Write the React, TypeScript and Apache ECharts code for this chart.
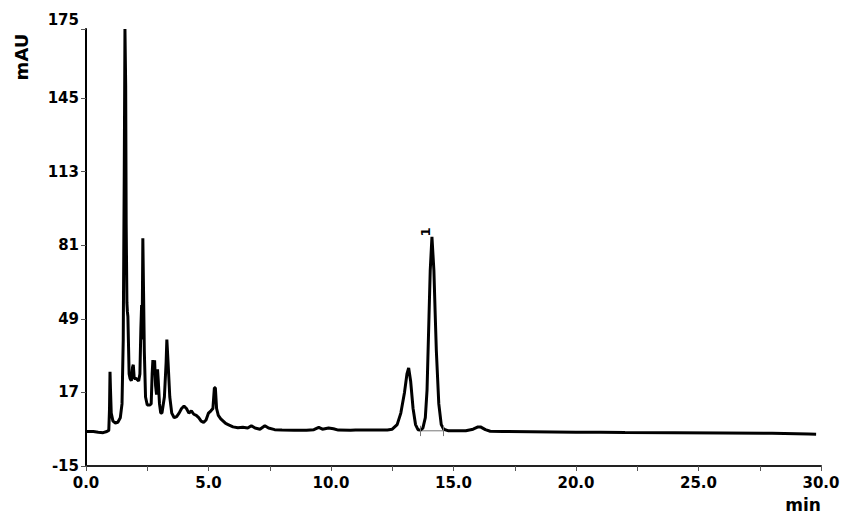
import React, { useEffect, useRef } from "react";
import * as echarts from "echarts";

// Chromatogram trace: retention time (min) and absorbance (mAU)
const times: number[] = [
  0, 0.3, 0.5, 0.7, 0.85, 0.93, 0.96, 0.98, 1.0, 1.03, 1.1, 1.2, 1.3, 1.4, 1.47, 1.52, 1.56, 1.59, 1.62, 1.64,
  1.67, 1.69, 1.71, 1.73, 1.76, 1.8, 1.85, 1.9, 1.93, 1.97, 2.05, 2.15, 2.2, 2.24, 2.27, 2.29, 2.32, 2.35, 2.38, 2.43,
  2.5, 2.6, 2.66, 2.7, 2.73, 2.77, 2.8, 2.84, 2.88, 2.92, 2.95, 3.0, 3.05, 3.1, 3.2, 3.27, 3.3, 3.35, 3.42, 3.5,
  3.6, 3.7, 3.8, 3.9, 4.0, 4.1, 4.2, 4.3, 4.4, 4.5, 4.6, 4.7, 4.8, 4.9, 5.0, 5.1, 5.18, 5.24, 5.28, 5.33,
  5.4, 5.5, 5.6, 5.7, 5.8, 6.0, 6.2, 6.4, 6.6, 6.75, 6.9, 7.1, 7.3, 7.45, 7.7, 8.0, 8.5, 9.0, 9.3, 9.5,
  9.65, 9.9, 10.1, 10.3, 10.8, 11.0, 11.5, 12.0, 12.3, 12.5, 12.7, 12.85, 13.0, 13.1, 13.17, 13.25, 13.35, 13.45, 13.55, 13.65,
  13.75, 13.85, 13.92, 14.0, 14.05, 14.12, 14.2, 14.25, 14.3, 14.4, 14.5, 14.6, 14.8, 15.0, 15.5, 15.8, 16.0, 16.1, 16.3, 16.5,
  17.0, 20.0, 21.0, 22.0, 24.0, 26.0, 28.0, 29.0, 29.5, 29.8,
];
const absorbance: number[] = [
  0, 0, -0.3, -0.5, 0, 0.5, 10, 26, 18, 8, 4.5, 3.7, 4, 6, 12, 40, 110, 175, 150, 90,
  56, 52, 50, 40, 25, 23, 22, 28, 29, 23, 23, 22, 25, 45, 55, 40, 84, 60, 35, 15,
  11.5, 11.5, 12, 25, 31, 25, 31, 20, 16, 27, 22, 12, 8, 8, 15, 30, 40, 30, 15, 8,
  6, 6.5, 8, 10, 11, 10, 8, 9, 7.5, 7, 6, 4.5, 4, 5, 8, 9, 10, 19, 19, 10,
  7, 5.5, 4.5, 3.5, 3, 2, 1.6, 1.8, 1.5, 2.5, 1.5, 1, 2.5, 1.5, 0.8, 0.6, 0.5, 0.5, 0.8, 1.8,
  1, 1.5, 1.2, 0.6, 0.5, 0.7, 0.6, 0.6, 0.7, 1.0, 3, 8, 17, 25, 27.6, 22, 10, 3, 0.8, 0.6,
  1.5, 6, 18, 50, 70, 84.6, 70, 52, 35, 12, 3, 1, 0.3, 0.3, 0.3, 1, 2, 2, 0.8, 0.1,
  0, -0.3, -0.3, -0.4, -0.5, -0.6, -0.8, -1.0, -1.1, -1.2,
];

// Integrated peak "1"
const peakLabel = "1";
const peakTime = 14.12;
const peakHeight = 84.6;
const baselineStart = 13.63;
const baselineEnd = 14.6;
const baselineLevel = 0.3;

const yMin = -15;
const yMax = 175;
const yStep = 32;
const xMin = 0;
const xMax = 30;

export default function App() {
  const ref = useRef<HTMLDivElement>(null);
  useEffect(() => {
    if (!ref.current) return;
    const chart = echarts.init(ref.current, null, { renderer: "svg" });
    const font = "DejaVu Sans";
    const trace = times.map((t, i) => [t, absorbance[i]]);
    chart.setOption({
      animation: false,
      backgroundColor: "#fff",
      grid: { left: 86, right: 35, top: 29, bottom: 58, containLabel: false },
      xAxis: {
        type: "value",
        min: xMin,
        max: xMax,
        interval: 2.5,
        axisLine: { show: true, onZero: false, lineStyle: { color: "#222", width: 2 } },
        axisTick: { show: true, length: 5, lineStyle: { color: "#555", width: 1 } },
        splitLine: { show: false },
        axisLabel: {
          margin: 9,
          color: "#000",
          fontFamily: font,
          fontWeight: "bold",
          fontSize: 15,
          formatter: (v: number) => (Math.abs(v % 5) < 1e-6 ? v.toFixed(1) : ""),
        },
      },
      yAxis: {
        type: "value",
        min: yMin,
        max: yMax,
        interval: yStep,
        axisLine: { show: true, lineStyle: { color: "#000", width: 2 } },
        axisTick: { show: true, length: 5, lineStyle: { color: "#555", width: 1 } },
        splitLine: { show: false },
        axisLabel: {
          margin: 7,
          color: "#000",
          fontFamily: font,
          fontWeight: "bold",
          fontSize: 15,
          formatter: (v: number) => (v === yMax ? "{top|" + v + "}" : String(v)),
          rich: {
            top: {
              fontFamily: font,
              fontWeight: "bold",
              fontSize: 15,
              color: "#000",
              padding: [0, 0, 18, 0],
            },
          },
        },
      },
      graphic: [
        {
          type: "text",
          x: 21,
          y: 57,
          rotation: Math.PI / 2,
          style: {
            text: "mAU",
            fontFamily: font,
            fontWeight: "bold",
            fontSize: 18,
            fill: "#000",
            align: "center",
            verticalAlign: "middle",
          },
        },
        {
          type: "text",
          x: 803,
          y: 505,
          style: {
            text: "min",
            fontFamily: font,
            fontWeight: "bold",
            fontSize: 17,
            fill: "#000",
            align: "center",
            verticalAlign: "middle",
          },
        },
      ],
      series: [
        {
          type: "line",
          data: trace,
          showSymbol: false,
          symbol: "none",
          lineStyle: { color: "#000", width: 3 },
          z: 3,
          markPoint: {
            symbol: "circle",
            symbolSize: 0,
            itemStyle: { color: "#000" },
            data: [{ coord: [peakTime, peakHeight], value: peakLabel }],
            label: {
              show: true,
              position: "top",
              distance: 5,
              rotate: 90,
              formatter: peakLabel,
              color: "#000",
              fontFamily: font,
              fontWeight: "bold",
              fontSize: 13,
            },
          },
        },
        {
          type: "line",
          data: [
            [baselineStart, baselineLevel],
            [baselineEnd, baselineLevel],
          ],
          showSymbol: false,
          symbol: "none",
          lineStyle: { color: "#777", width: 1 },
          z: 2,
          markLine: {
            symbol: "none",
            silent: true,
            label: { show: false },
            lineStyle: { color: "#777", width: 1, type: "solid" },
            data: [
              [{ coord: [baselineStart, -2] }, { coord: [baselineStart, 2.5] }],
              [{ coord: [baselineEnd, -2] }, { coord: [baselineEnd, 2.5] }],
            ],
          },
        },
      ],
    });
    return () => chart.dispose();
  }, []);
  return <div ref={ref} style={{ width: 856, height: 524, position: "fixed", left: 0, top: 0 }} />;
}
